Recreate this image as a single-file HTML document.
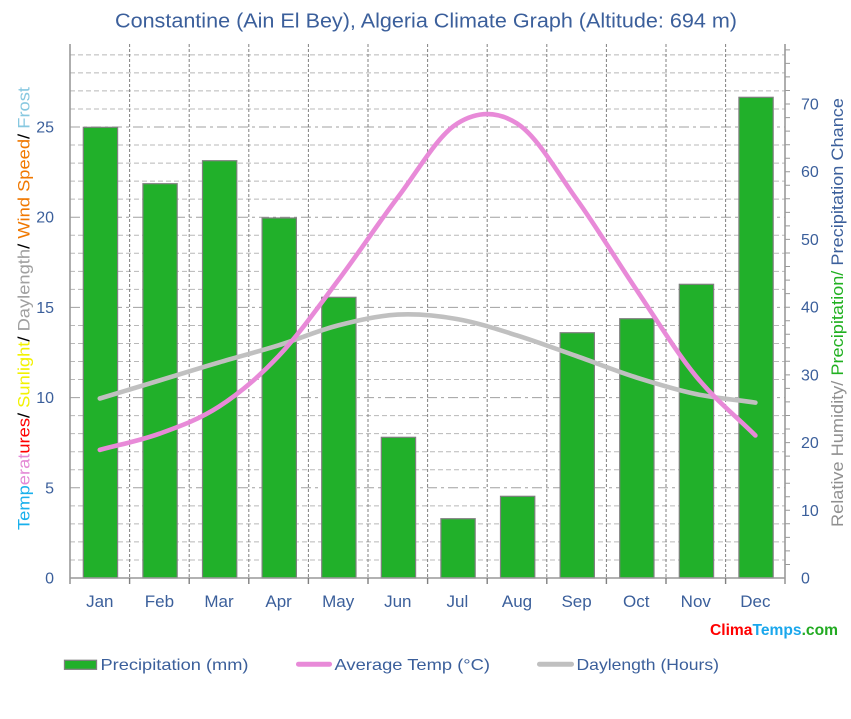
<!DOCTYPE html>
<html><head><meta charset="utf-8"><style>
html,body{margin:0;padding:0;background:#fff;}
svg{display:block;font-family:"Liberation Sans","DejaVu Sans",sans-serif;}
</style></head><body>
<svg width="851" height="719" viewBox="0 0 851 719" xmlns="http://www.w3.org/2000/svg">
<rect width="851" height="719" fill="#fff"/>
<text x="115" y="27.5" font-size="20" fill="#3b5f9b" textLength="622" lengthAdjust="spacingAndGlyphs">Constantine (Ain El Bey), Algeria Climate Graph (Altitude: 694 m)</text>

<!-- minor horizontal grid -->
<g stroke="#b8b8b8" stroke-width="1" stroke-dasharray="5,3" fill="none">
<path d="M70,559.96H785M70,541.92H785M70,523.88H785M70,505.84H785M70,469.76H785M70,451.72H785M70,433.68H785M70,415.64H785M70,379.56H785M70,361.52H785M70,343.48H785M70,325.44H785M70,289.36H785M70,271.32H785M70,253.28H785M70,235.24H785M70,199.16H785M70,181.12H785M70,163.08H785M70,145.04H785M70,108.96H785M70,90.92H785M70,72.88H785M70,54.84H785"/>
</g>
<!-- major horizontal grid -->
<g stroke="#a0a0a0" stroke-width="1" stroke-dasharray="10,4,3,4" fill="none">
<path d="M70,487.8H785M70,397.6H785M70,307.4H785M70,217.2H785M70,127H785"/>
</g>
<!-- vertical grid -->
<g stroke="#808080" stroke-width="1" stroke-dasharray="3,2" fill="none">
<path d="M129.6,44V578M189.2,44V578M248.8,44V578M308.4,44V578M368,44V578M427.6,44V578M487.2,44V578M546.8,44V578M606.4,44V578M666,44V578M725.6,44V578"/>
</g>

<!-- bars -->
<g fill="#21b02a" stroke="#808080" stroke-width="1.2">
<rect x="83.3" y="127.3" width="34.3" height="450.7"/>
<rect x="142.9" y="183.7" width="34.3" height="394.3"/>
<rect x="202.5" y="160.7" width="34.3" height="417.3"/>
<rect x="262.1" y="218" width="34.3" height="360"/>
<rect x="321.7" y="297.3" width="34.3" height="280.7"/>
<rect x="381.3" y="437.3" width="34.3" height="140.7"/>
<rect x="440.9" y="518.7" width="34.3" height="59.3"/>
<rect x="500.5" y="496.3" width="34.3" height="81.7"/>
<rect x="560.1" y="332.7" width="34.3" height="245.3"/>
<rect x="619.7" y="318.7" width="34.3" height="259.3"/>
<rect x="679.3" y="284.3" width="34.3" height="293.7"/>
<rect x="738.9" y="97.3" width="34.3" height="480.7"/>
</g>

<!-- axes -->
<g stroke="#999" fill="none">
<path d="M70,44V584" stroke-width="1.6"/>
<path d="M785,44V584" stroke-width="1.6"/>
<path d="M70,578H785" stroke-width="1.6"/>
<path d="M129.6,578V584M189.2,578V584M248.8,578V584M308.4,578V584M368,578V584M427.6,578V584M487.2,578V584M546.8,578V584M606.4,578V584M666,578V584M725.6,578V584" stroke="#808080" stroke-width="1.4"/>
<path d="M785,564.46h5M785,550.9h5M785,537.4h5M785,523.8h5M785,510.3h5M785,496.7h5M785,483.2h5M785,469.7h5M785,456.1h5M785,442.6h5M785,429h5M785,415.5h5M785,401.9h5M785,388.4h5M785,374.9h5M785,361.3h5M785,347.8h5M785,334.2h5M785,320.7h5M785,307.2h5M785,293.6h5M785,280.1h5M785,266.5h5M785,253h5M785,239.4h5M785,225.9h5M785,212.4h5M785,198.8h5M785,185.3h5M785,171.7h5M785,158.2h5M785,144.7h5M785,131.1h5M785,117.6h5M785,104h5M785,90.5h5M785,76.9h5M785,63.4h5M785,49.9h5" stroke-width="1"/>
</g>

<!-- daylength -->
<path d="M99.8,398.5 C119.7,392.5 139.5,386.5 159.4,380.5 C179.3,374.5 199.1,368.3 219.0,362.4 C238.9,356.5 258.7,351.5 278.6,345.3 C298.5,339.1 318.3,330.5 338.2,325.4 C358.1,320.3 377.9,315.7 397.8,314.6 C417.7,313.6 437.5,315.6 457.4,319.1 C477.3,322.6 497.1,329.2 517.0,335.4 C536.9,341.6 556.7,349.1 576.6,356.1 C596.5,363.1 616.3,371.1 636.2,377.4 C656.1,383.7 675.9,389.8 695.8,394.0 C715.7,398.2 735.5,399.7 755.4,402.6" fill="none" stroke="#c0c0c0" stroke-width="4.6" stroke-linecap="round"/>
<!-- temperature -->
<path d="M99.8,449.9 C119.7,444.5 139.5,440.9 159.4,433.7 C179.3,426.5 199.1,419.5 219.0,406.6 C238.9,393.7 258.7,377.2 278.6,356.1 C298.5,335.1 318.3,306.8 338.2,280.3 C358.1,253.9 377.9,223.6 397.8,197.4 C417.7,171.3 437.5,135.7 457.4,123.4 C477.3,111.1 497.1,110.8 517.0,123.4 C536.9,136.0 556.7,171.5 576.6,199.2 C596.5,226.9 616.3,259.9 636.2,289.4 C656.1,318.9 675.9,351.7 695.8,376.0 C715.7,400.4 735.5,415.7 755.4,435.5" fill="none" stroke="#e88ad8" stroke-width="4.6" stroke-linecap="round"/>

<!-- left labels -->
<g font-size="16" fill="#3b5f9b" text-anchor="end">
<text x="54" y="583.5">0</text>
<text x="54" y="493.3">5</text>
<text x="54" y="403.1">10</text>
<text x="54" y="312.9">15</text>
<text x="54" y="222.7">20</text>
<text x="54" y="132.5">25</text>
</g>
<!-- right labels -->
<g font-size="16" fill="#3b5f9b">
<text x="801" y="583.5">0</text>
<text x="801" y="515.8">10</text>
<text x="801" y="448.1">20</text>
<text x="801" y="380.4">30</text>
<text x="801" y="312.7">40</text>
<text x="801" y="244.9">50</text>
<text x="801" y="177.2">60</text>
<text x="801" y="109.5">70</text>
</g>
<!-- month labels -->
<g font-size="17" fill="#3b5f9b" text-anchor="middle">
<text x="99.8" y="607">Jan</text>
<text x="159.4" y="607">Feb</text>
<text x="219" y="607">Mar</text>
<text x="278.6" y="607">Apr</text>
<text x="338.2" y="607">May</text>
<text x="397.8" y="607">Jun</text>
<text x="457.4" y="607">Jul</text>
<text x="517" y="607">Aug</text>
<text x="576.6" y="607">Sep</text>
<text x="636.2" y="607">Oct</text>
<text x="695.8" y="607">Nov</text>
<text x="755.4" y="607">Dec</text>
</g>

<!-- left axis title -->
<text transform="translate(29.5,530) rotate(-90)" font-size="17" textLength="443" lengthAdjust="spacingAndGlyphs"><tspan fill="#19b0ec">Temp</tspan><tspan fill="#e48ad6">erat</tspan><tspan fill="#ff0000">ures</tspan><tspan fill="#000">/ </tspan><tspan fill="#f2f200">Sunlight</tspan><tspan fill="#000">/ </tspan><tspan fill="#a0a0a0">Daylength</tspan><tspan fill="#000">/ </tspan><tspan fill="#f07800">Wind Speed</tspan><tspan fill="#000">/ </tspan><tspan fill="#87c8e0">Frost</tspan></text>
<!-- right axis title -->
<text transform="translate(843,527) rotate(-90)" font-size="17" textLength="429" lengthAdjust="spacingAndGlyphs"><tspan fill="#909090">Relative Humidity/ </tspan><tspan fill="#20b020">Precipitation/ </tspan><tspan fill="#3b5f9b">Precipitation Chance</tspan></text>

<!-- brand -->
<text x="710" y="635" font-size="16" font-weight="bold" textLength="128" lengthAdjust="spacingAndGlyphs"><tspan fill="#ff0000">Clima</tspan><tspan fill="#1aa7ec">Temps</tspan><tspan fill="#22aa22">.com</tspan></text>

<!-- legend -->
<rect x="64.5" y="660.3" width="32" height="9" fill="#21b02a" stroke="#808080" stroke-width="1.3"/>
<text x="100.5" y="670" font-size="16" fill="#3b5f9b" textLength="148" lengthAdjust="spacingAndGlyphs">Precipitation (mm)</text>
<line x1="298.5" y1="664.2" x2="329.5" y2="664.2" stroke="#e88ad8" stroke-width="5" stroke-linecap="round"/>
<text x="334.5" y="670" font-size="16" fill="#3b5f9b" textLength="155.5" lengthAdjust="spacingAndGlyphs">Average Temp (°C)</text>
<line x1="539.5" y1="664.2" x2="571.5" y2="664.2" stroke="#c0c0c0" stroke-width="5" stroke-linecap="round"/>
<text x="576.5" y="670" font-size="16" fill="#3b5f9b" textLength="142.5" lengthAdjust="spacingAndGlyphs">Daylength (Hours)</text>
</svg>
</body></html>
